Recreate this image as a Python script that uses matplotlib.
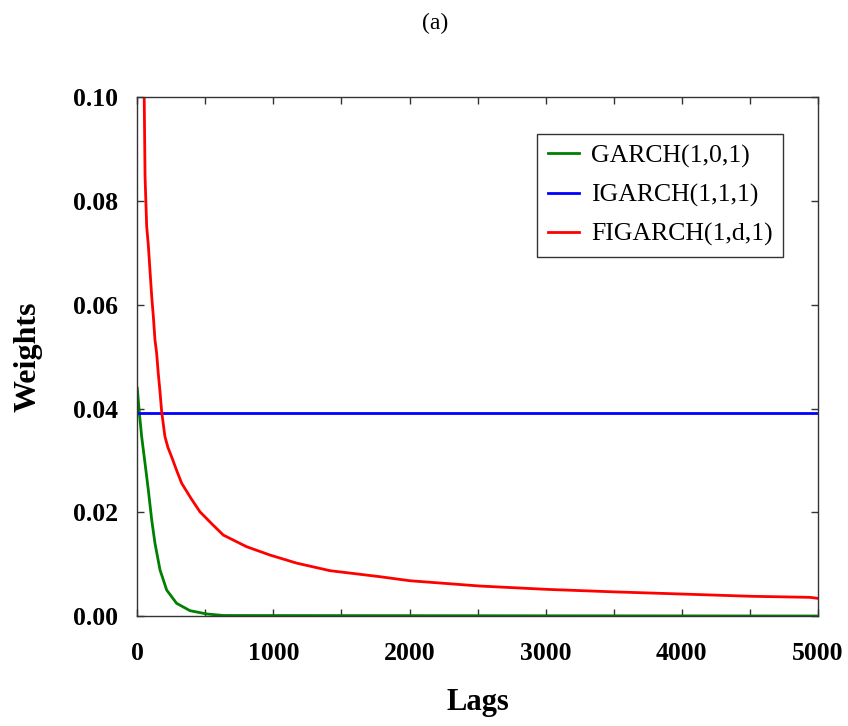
import matplotlib
matplotlib.use("Agg")
import matplotlib.pyplot as plt
from matplotlib.ticker import MultipleLocator

plt.rcParams['font.family'] = ['Liberation Serif', 'DejaVu Serif']

# Data
garch_lags = [0, 15, 32, 57, 81, 106, 130, 167, 216, 289, 387, 509, 632, 5000]
garch_w = [0.0439, 0.0392, 0.0346, 0.0294, 0.0243, 0.0185, 0.0140, 0.00887,
           0.0050, 0.00244, 0.00103, 0.0004, 0.0001, 0.0]

igarch_lags = [0, 5000]
igarch_w = [0.0392, 0.0392]

figarch_lags = [50, 57, 69, 81, 93, 106, 118, 130, 142, 154, 167, 179, 203, 225,
                252, 290, 326, 394, 460, 550, 632, 803, 974, 1170, 1415, 1782,
                2002, 2516, 3006, 3495, 3997, 4511, 4939, 5000]
figarch_w = [0.102, 0.0847, 0.0751, 0.0715, 0.0667, 0.0616, 0.0577, 0.0532,
             0.0507, 0.0468, 0.0432, 0.0394, 0.0346, 0.0325, 0.0307, 0.0280,
             0.0256, 0.0227, 0.0201, 0.0177, 0.0156, 0.01336, 0.01176, 0.0102,
             0.00874, 0.00758, 0.0068, 0.00578, 0.00514, 0.00466, 0.00424,
             0.0038, 0.0036, 0.0034]

labels = ['GARCH(1,0,1)', 'IGARCH(1,1,1)', 'FIGARCH(1,d,1)']
x_ticks = [0, 1000, 2000, 3000, 4000, 5000]
y_ticks = [0.00, 0.02, 0.04, 0.06, 0.08, 0.10]

fig = plt.figure(figsize=(8.48, 7.26), dpi=100)
ax = fig.add_axes([0.1619, 0.1515, 0.8027, 0.7145])

ax.plot(garch_lags, garch_w, color='#008000', lw=2.0, label=labels[0])
ax.plot(igarch_lags, igarch_w, color='#0000FF', lw=2.0, label=labels[1])
ax.plot(figarch_lags, figarch_w, color='#FF0000', lw=2.0, label=labels[2])

ax.set_xlim(0, 5000)
ax.set_ylim(0, 0.10)
ax.set_xticks(x_ticks)
ax.set_yticks(y_ticks)
ax.xaxis.set_minor_locator(MultipleLocator(500))
ax.set_xticklabels([str(t) for t in x_ticks])
ax.set_yticklabels([f'{t:.2f}' for t in y_ticks])

ax.tick_params(axis='both', which='both', direction='in', top=True, right=True,
               length=4.8, width=1.0, color='#333333')
ax.tick_params(axis='x', which='major', pad=19)
ax.tick_params(axis='y', which='major', pad=14)
for lab in ax.get_xticklabels() + ax.get_yticklabels():
    lab.set_fontsize(18.5)
    lab.set_fontweight('bold')

for sp in ax.spines.values():
    sp.set_color('#333333')
    sp.set_linewidth(1.0)

ax.set_xlabel('Lags', fontsize=22, fontweight='bold', labelpad=16)
ax.set_ylabel('Weights', fontsize=23, fontweight='bold', labelpad=22)

leg = ax.legend(loc='upper right', bbox_to_anchor=(0.949, 0.929), borderaxespad=0,
                fontsize=18.5, frameon=True, fancybox=False, edgecolor='black',
                handlelength=1.2, handletextpad=0.5, borderpad=0.4,
                labelspacing=0.62)
leg.get_frame().set_linewidth(1.0)

fig.text(0.513, 1 - 23 / 726, '(a)', ha='center', va='center', fontsize=17)

fig.savefig('out.png', dpi=100)
